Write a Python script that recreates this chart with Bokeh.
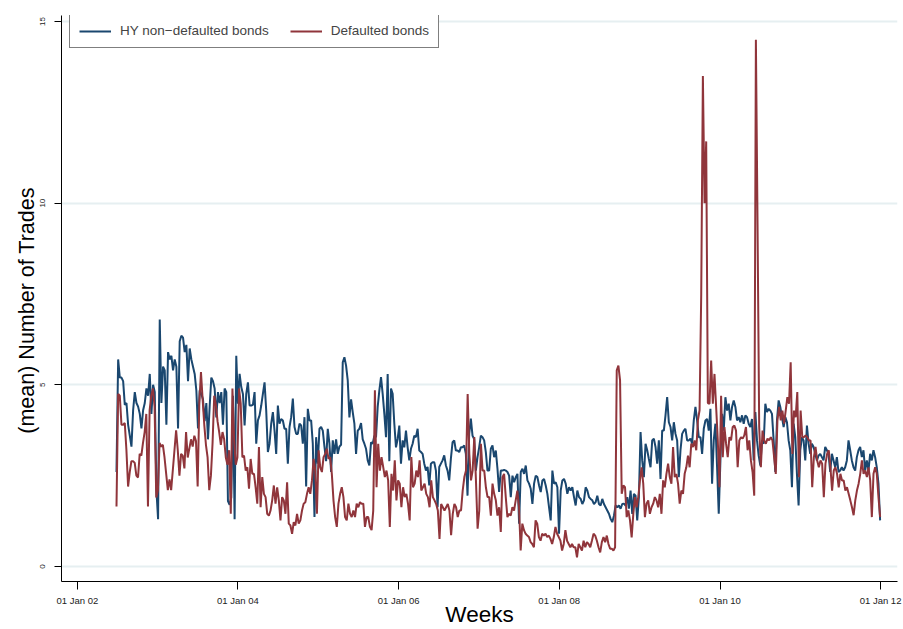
import pandas as pd
from bokeh.plotting import figure
from bokeh.models import Range1d, FixedTicker, DatetimeTickFormatter, Legend, LegendItem
from bokeh.embed import file_html
from bokeh.resources import INLINE

# ---------------- data (weekly means) ----------------
series_start = "2002-06-28"
series_end = "2011-12-30"

hy_2002 = [2.6, 5.7, 5.2, 5.2, 5.1, 4.45, 4.5, 3.9, 3.6, 3.3, 4.3, 4.8, 4.5, 4.4, 4.2, 3.8, 4.3, 4.5,
           4.9, 4.7, 5.3, 4.2, 5.0, 4.8, 2.1, 1.3, 6.8]
hy_2003 = [4.5, 5.5, 5.4, 3.9, 5.9, 5.7, 5.8, 5.4, 5.7, 5.5, 3.8, 6.2, 6.35, 6.3, 5.9, 6.1, 5.1, 6.0,
           5.7, 5.5, 5.3, 4.85, 3.8, 4.85, 4.75, 4.6, 4.0, 4.5, 3.5, 4.4, 5.2, 5.1, 4.9, 4.1, 4.8, 4.5,
           4.8, 3.9, 4.9, 4.8, 1.8, 1.7, 1.9, 4.7, 1.3, 5.8]
hy_2004_05 = [4.48, 5.3, 4.94, 4.75, 3.88, 4.75, 5.07, 4.43, 4.43, 4.45, 4.8, 3.38, 4.02, 4.16, 4.43,
              4.75, 5.07, 4.29, 3.15, 3.38, 3.93, 4.25, 3.74, 3.1, 4.43, 3.93, 4.06, 4.02, 3.79, 3.79,
              2.83, 3.84, 4.11, 4.62, 3.84, 3.65, 3.65, 3.93, 3.88, 3.38, 4.11, 2.2, 4.34, 4.02, 4.02,
              3.38, 1.36, 3.56, 2.83, 3.79, 3.84, 3.74, 3.3, 2.9, 3.79, 3.38, 2.6, 3.47, 3.1, 3.5,
              3.1, 3.3, 3.35, 5.62, 5.76, 5.53, 5.12, 4.1, 4.6, 4.25, 3.93, 3.1, 3.74, 3.79, 3.95, 3.5]
hy_2006_07 = [3.38, 3.24, 2.92, 2.78, 3.42, 3.38, 3.6, 3.56, 4.39, 4.85, 5.21, 4.75, 4.2, 3.56, 5.3,
              2.9, 4.9, 4.75, 3.93, 3.28, 3.51, 3.88, 2.83, 3.47, 3.28, 3.74, 3.28, 2.92, 3.24, 3.38,
              3.6, 3.56, 3.79, 3.19, 3.15, 3.1, 2.83, 2.64, 2.74, 2.23, 2.83, 2.87, 2.87, 2.64, 1.63,
              2.74, 2.83, 2.92, 3.06, 2.78, 2.64, 2.37, 2.97, 3.42, 3.47, 3.19, 3.19, 3.15, 3.28, 3.28,
              3.33, 3.1, 1.95, 3.65, 4.07, 3.6, 3.51, 2.64, 3.01, 3.28, 3.6, 3.56, 3.47, 3.15, 2.64]
hy_2007_08 = [2.64, 3.24, 3.33, 3.01, 3.19, 2.69, 2.05, 2.64, 2.64, 2.66, 2.64, 2.6, 2.5, 1.91, 2.5,
              2.32, 2.46, 2.55, 1.18, 2.6, 2.69, 2.55, 2.78, 2.37, 2.28, 2.14, 1.72, 2.28, 2.5, 2.46,
              2.23, 2.05, 2.37, 2.41, 2.23, 2.0, 1.63, 1.27, 2.64, 2.28, 2.32, 2.18, 0.9, 2.09, 2.37,
              2.41, 2.28, 2.0, 2.18, 2.09, 2.18, 1.91, 1.68, 2.09, 1.91, 1.86, 1.72, 1.82, 2.18, 2.09,
              1.91, 1.86, 1.82, 1.72, 1.77, 1.95, 1.72, 1.68, 1.86, 1.72, 1.63, 1.54, 1.45, 1.31, 1.22,
              1.4, 1.68, 1.63, 1.68, 1.59, 1.72]
hy_2008_10 = [1.73, 1.68, 1.91, 1.59, 2.09, 1.45, 2.0, 1.95, 1.27, 1.91, 3.7, 2.92, 2.46, 3.38, 3.2,
              2.96, 2.73, 3.47, 3.52, 3.29, 2.83, 3.47, 2.41, 3.74, 3.74, 4.16, 4.66, 3.97, 3.84, 3.47,
              3.97, 3.65, 3.47, 2.46, 3.2, 3.65, 3.74, 3.79, 3.47, 3.47, 3.52, 3.38, 4.02, 4.39, 4.02,
              3.56, 3.56, 3.1, 3.79, 4.02, 4.06, 3.74, 4.34, 2.28, 3.47, 3.93, 2.73, 1.45, 2.92, 4.2,
              3.74, 4.66, 4.29, 4.48, 4.02, 4.39, 4.57, 4.39, 4.02, 4.11, 3.97, 4.16, 3.93, 4.16, 4.11,
              3.93, 3.84, 4.06, 2.92, 4.25]
hy_2010_11 = [3.47, 3.05, 2.78, 3.47, 3.38, 4.48, 4.25, 4.34, 4.29, 4.2, 3.47, 2.6, 4.02, 4.57, 4.39,
              4.11, 3.84, 4.11, 3.97, 3.47, 3.2, 2.18, 3.93, 3.56, 2.55, 1.68, 3.2, 3.56, 3.47, 2.92,
              3.88, 3.38, 3.1, 3.38, 3.29, 3.1, 2.92, 3.05, 3.1, 3.01, 2.92, 3.29, 3.2, 3.1, 2.6,
              3.1, 2.92, 2.73, 3.01, 2.6, 2.64, 2.73, 2.64, 2.73, 2.92, 3.47, 3.2, 2.92, 2.73, 2.64,
              3.01, 3.2, 3.29, 3.01, 3.2, 2.64, 2.92, 2.64, 3.1, 2.92, 3.2, 3.01, 2.73, 2.28, 1.27]

def_2002 = [1.65, 4.75, 4.7, 3.9, 3.9, 3.95, 3.2, 2.2, 2.6, 2.9, 2.9, 2.85, 2.5, 2.45, 3.1, 3.05, 3.4,
            3.7, 4.2, 1.65, 4.3, 4.7, 4.9, 4.4, 1.9, 2.1]
def_2003 = [3.4, 3.3, 3.35, 3.0, 2.55, 2.1, 2.4, 2.1, 2.65, 3.2, 3.75, 3.2, 2.5, 3.1, 3.05, 2.7, 3.7,
            3.0, 3.25, 3.5, 3.3, 3.6, 3.45, 2.2, 4.5, 5.35, 4.6, 3.9, 3.35, 3.0, 2.1, 2.5, 3.4, 4.7,
            4.45, 4.0, 3.7, 3.35, 3.7, 3.5, 3.0, 2.8, 3.2, 1.45, 4.9, 3.5, 2.8, 3.0, 4.9]
def_2004_05 = [4.48, 3.01, 3.05, 2.64, 2.73, 2.14, 2.96, 2.55, 2.55, 2.18, 1.73, 3.29, 1.63, 2.46, 2.0,
               1.91, 1.45, 1.4, 1.54, 1.82, 2.23, 1.73, 2.18, 1.82, 1.27, 1.91, 1.82, 1.45, 2.32, 1.18,
               1.13, 0.9, 1.22, 1.13, 1.45, 1.18, 1.27, 1.54, 1.73, 1.77, 2.0, 2.18, 2.0, 2.37, 2.96,
               2.64, 1.45, 3.2, 2.73, 2.6, 3.01, 3.1, 3.24, 2.96, 3.01, 2.55, 1.82, 1.36, 1.09, 1.73,
               2.0, 2.18, 1.91, 1.36, 1.27, 1.73, 1.45, 1.36, 1.54, 1.36, 1.73, 1.63, 1.77, 1.73, 1.73,
               1.09]
def_2006_07 = [1.36, 1.36, 1.09, 1.0, 1.54, 4.85, 2.18, 3.38, 2.64, 3.01, 2.74, 2.46, 2.64, 2.37, 1.09,
               2.55, 2.09, 2.92, 1.82, 2.37, 2.28, 1.63, 2.18, 1.91, 2.0, 1.72, 1.27, 3.01, 2.18, 2.28,
               2.64, 2.46, 2.92, 2.09, 2.18, 2.28, 2.0, 1.91, 1.63, 2.37, 1.91, 1.82, 1.72, 1.54, 0.76,
               1.72, 1.63, 1.54, 1.63, 1.72, 1.54, 0.86, 1.45, 1.72, 1.63, 1.36, 1.54, 1.54, 2.09, 2.46,
               2.64, 4.75, 3.1, 2.37, 2.64, 3.56, 2.37, 1.04, 1.54, 3.38, 2.64, 2.64, 2.18, 1.91, 1.91]
def_2007_08 = [1.4, 2.28, 2.0, 1.82, 1.4, 1.63, 0.95, 2.46, 2.55, 1.91, 1.36, 1.45, 1.4, 1.63, 1.54,
               1.82, 2.09, 1.63, 0.44, 1.18, 1.0, 0.9, 0.85, 0.81, 0.67, 0.62, 0.53, 1.27, 1.18, 0.81,
               0.71, 0.9, 0.85, 0.9, 0.81, 0.85, 0.76, 0.62, 0.81, 1.09, 0.9, 0.81, 0.71, 0.44, 0.62,
               1.0, 0.71, 0.62, 0.53, 0.62, 0.53, 0.53, 0.25, 0.62, 0.53, 0.44, 0.71, 0.53, 0.67, 0.62,
               0.53, 0.71, 0.9, 0.85, 0.71, 0.53, 0.39, 0.67, 0.81, 0.67, 0.85, 0.62, 0.49, 0.49, 0.44,
               0.53, 5.4, 5.53, 5.12, 2.0, 2.23]
def_2008_10 = [2.18, 1.36, 1.54, 1.27, 0.8, 1.45, 1.91, 1.63, 1.91, 2.37, 2.73, 2.28, 1.36, 1.73, 1.82,
               1.45, 1.63, 1.73, 1.91, 1.82, 1.63, 2.0, 1.45, 2.37, 2.18, 2.55, 2.83, 2.46, 2.28, 3.29,
               2.46, 2.55, 2.28, 1.73, 2.09, 2.0, 2.55, 2.73, 3.05, 2.73, 3.38, 3.29, 3.47, 3.2, 4.02,
               4.3, 7.5, 13.5, 10.0, 11.7, 4.5, 4.48, 5.67, 4.48, 5.3, 4.39, 3.47, 2.18, 4.7, 3.01,
               3.84, 3.38, 3.01, 3.56, 3.47, 3.84, 3.88, 3.74, 2.73, 3.47, 3.56, 3.52, 3.61, 3.84, 3.2,
               3.47, 2.92, 2.6, 1.95, 14.5]
def_2010_11 = [9.4, 3.84, 2.73, 3.74, 3.47, 3.38, 3.52, 3.47, 3.56, 3.47, 3.01, 2.55, 4.02, 4.39, 4.02,
               4.29, 3.93, 4.29, 4.66, 4.48, 5.62, 3.1, 4.29, 4.11, 4.8, 2.46, 4.29, 3.56, 3.56, 3.61,
               3.56, 3.47, 3.47, 2.18, 3.01, 3.29, 2.92, 2.73, 2.92, 2.83, 1.91, 2.83, 3.1, 3.2, 2.73,
               2.09, 2.64, 2.73, 2.55, 2.18, 2.55, 2.37, 2.37, 2.09, 2.18, 2.0, 1.82, 1.63, 1.41, 1.82,
               2.09, 2.28, 2.55, 2.92, 2.55, 2.64, 2.46, 2.73, 2.37, 1.36, 2.55, 2.73, 2.55, 1.91, 1.36]

hy_values = hy_2002 + hy_2003 + hy_2004_05 + hy_2006_07 + hy_2007_08 + hy_2008_10 + hy_2010_11
def_values = def_2002 + def_2003 + def_2004_05 + def_2006_07 + def_2007_08 + def_2008_10 + def_2010_11

series_names = ["HY non\u2212defaulted bonds", "Defaulted bonds"]
x_tick_dates = ["2002-01-01", "2004-01-01", "2006-01-01", "2008-01-01", "2010-01-01", "2012-01-01"]
y_ticks = [0, 5, 10, 15]
x_title = "Weeks"
y_title = "(mean) Number of Trades"

hy_dates = pd.date_range(series_start, series_end, periods=len(hy_values))
def_dates = pd.date_range(series_start, series_end, periods=len(def_values))

# ---------------- figure ----------------
BLUE = "#1a476f"
RED = "#90353b"
FONT = "Liberation Sans"

p = figure(width=903, height=629, output_backend="svg", toolbar_location=None,
           x_axis_type="datetime",
           x_range=Range1d(pd.Timestamp("2001-10-21"), pd.Timestamp("2012-03-18")),
           y_range=Range1d(-0.413, 15.165),
           min_border_left=61, min_border_right=6, min_border_top=15, min_border_bottom=48)
p.outline_line_color = None
p.background_fill_color = "white"
p.border_fill_color = "white"

r_hy = p.line(hy_dates, hy_values, line_color=BLUE, line_width=2)
r_def = p.line(def_dates, def_values, line_color=RED, line_width=2)

# grid
p.xgrid.visible = False
p.ygrid.ticker = FixedTicker(ticks=y_ticks)
p.ygrid.grid_line_color = "#e6eff1"
p.ygrid.grid_line_width = 2

# x axis
tick_ms = [pd.Timestamp(d).value // 10**6 for d in x_tick_dates]
p.xaxis.ticker = FixedTicker(ticks=tick_ms)
fmt = "%d %b %y"
p.xaxis.formatter = DatetimeTickFormatter(milliseconds=fmt, seconds=fmt, minsec=fmt, minutes=fmt,
                                          hourmin=fmt, hours=fmt, days=fmt, months=fmt, years=fmt)
p.xaxis.major_tick_out = 8
p.xaxis.major_tick_in = 0
p.xaxis.minor_tick_line_color = None
p.xaxis.major_label_standoff = 5
p.xaxis.major_label_text_font = FONT
p.xaxis.major_label_text_font_size = "9.5px"
p.xaxis.major_label_text_color = "#222222"
p.xaxis.axis_line_color = "black"
p.xaxis.major_tick_line_color = "black"
p.xaxis.axis_label = x_title
p.xaxis.axis_label_standoff = -7
p.xaxis.axis_label_text_font = FONT
p.xaxis.axis_label_text_font_size = "22.5px"
p.xaxis.axis_label_text_font_style = "normal"
p.xaxis.axis_label_text_color = "black"

# y axis
p.yaxis.ticker = FixedTicker(ticks=y_ticks)
p.yaxis.major_label_orientation = "vertical"
p.yaxis.major_tick_out = 7
p.yaxis.major_tick_in = 0
p.yaxis.minor_tick_line_color = None
p.yaxis.major_label_standoff = 9
p.yaxis.major_label_text_font = FONT
p.yaxis.major_label_text_font_size = "8px"
p.yaxis.major_label_text_color = "#222222"
p.yaxis.axis_line_color = "black"
p.yaxis.major_tick_line_color = "black"
p.yaxis.axis_label = y_title + "\u00a0\u00a0\u00a0\u00a0"
p.yaxis.axis_label_standoff = -1
p.yaxis.axis_label_text_font = FONT
p.yaxis.axis_label_text_font_size = "21.5px"
p.yaxis.axis_label_text_font_style = "normal"
p.yaxis.axis_label_text_color = "black"

# legend
legend = Legend(items=[LegendItem(label=series_names[0], renderers=[r_hy]),
                       LegendItem(label=series_names[1], renderers=[r_def])],
                orientation="horizontal", location=(8, 533), margin=0,
                padding=9, spacing=21, glyph_width=32, glyph_height=14, label_height=14,
                label_standoff=9, label_text_font=FONT, label_text_font_size="13.5px",
                border_line_color="black", border_line_width=1, background_fill_color="white",
                background_fill_alpha=1)
p.add_layout(legend)

open("out.html", "w").write(file_html(p, INLINE))
